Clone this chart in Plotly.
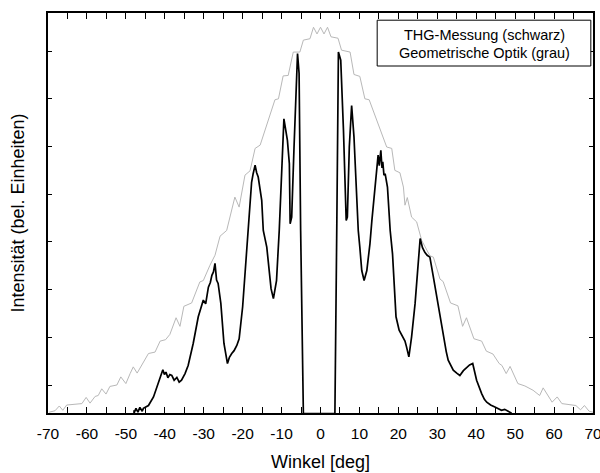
import plotly.graph_objects as go

# Geometrische Optik (grau)
winkel_geo = [-69.7, -68.2, -67.1, -66.2, -65.2, -61.3, -60.2, -59.2, -57.9, -57.1,
              -56.2, -55.1, -54.1, -52.3, -51.3, -50.0, -48.9, -48.1, -47.1, -45.9,
              -44.2, -42.5, -41.2, -39.8, -38.7, -37.1, -36.1, -35.1, -33.1, -31.0,
              -30.1, -28.4, -27.1, -25.8, -24.1, -22.0, -20.9, -19.4, -18.1, -16.8,
              -15.5, -11.7, -10.8, -9.6, -8.3, -7.0, -5.3, -4.4, -2.7, -1.8,
              -0.9, 0.0, 0.9, 1.8, 2.7, 4.5, 5.4, 7.6, 8.6, 10.1,
              11.4, 12.5, 17.0, 18.3, 19.1, 20.4, 21.3, 21.7, 22.3, 23.4,
              24.7, 26.0, 28.1, 29.0, 30.7, 31.5, 33.4, 35.3, 36.5, 37.5,
              39.4, 41.4, 42.6, 44.3, 45.9, 46.6, 47.7, 48.7, 50.7, 52.5,
              54.6, 56.3, 57.2, 59.5, 60.8, 62.0, 65.6, 66.8, 67.8, 69.0, 70.0]
intens_geo = [0.43, 0.46, 0.56, 0.47, 0.58, 0.61, 0.74, 0.62, 0.76, 0.78,
              0.92, 0.81, 0.97, 1.00, 1.17, 1.03, 1.24, 1.38, 1.25, 1.43,
              1.66, 1.69, 1.92, 1.95, 2.06, 2.41, 2.23, 2.65, 2.72, 3.16,
              3.19, 3.51, 3.72, 4.12, 4.24, 4.94, 4.73, 5.40, 5.49, 5.96,
              6.03, 6.98, 7.00, 7.48, 7.49, 7.98, 7.98, 8.23, 8.26, 8.50,
              8.36, 8.50, 8.36, 8.50, 8.30, 8.27, 8.02, 7.98, 7.51, 7.47,
              7.00, 6.98, 5.99, 5.96, 5.50, 5.45, 5.15, 4.77, 4.93, 4.52,
              4.42, 4.03, 3.71, 3.68, 3.22, 3.17, 2.72, 2.66, 2.23, 2.41,
              1.97, 1.92, 1.71, 1.65, 1.45, 1.41, 1.24, 1.39, 1.03, 0.98,
              0.89, 0.78, 0.94, 0.64, 0.75, 0.61, 0.57, 0.48, 0.57, 0.45, 0.43]

# THG-Messung (schwarz)
winkel_thg = [-47.9, -47.9, -47.4, -46.9, -46.4, -45.8, -45.5, -44.2, -42.9, -41.7,
              -40.5, -40.1, -39.7, -39.2, -38.7, -38.2, -37.6, -36.9, -36.3, -35.7,
              -34.8, -34.0, -32.7, -31.4, -30.1, -29.5,
              -28.8, -28.3, -27.9, -27.5, -27.1, -26.7, -26.3, -25.6, -24.8, -23.9,
              -23.4, -22.8, -22.2, -21.5, -20.9,
              -20.0, -19.4, -18.8, -18.1, -17.7, -17.3, -16.8, -16.4, -16.0, -15.1, -14.7, -13.8,
              -12.7, -12.1, -11.3, -10.6, -10.1, -9.4, -8.5, -8.0, -7.8, -7.4,
              -6.8, -6.3, -5.9, -5.5, -5.1, -4.4, 3.7, 4.2, 4.6, 5.2,
              5.9, 6.6, 6.9, 7.4, 8.0, 8.6, 9.3, 9.7, 10.1, 10.6,
              11.2, 11.9, 12.3, 12.7, 13.2, 14.0, 14.8, 15.1, 15.5, 15.8, 16.0, 16.3, 16.6,
              17.2, 17.9, 18.5, 19.4, 20.2, 20.7, 21.3, 21.7, 22.1, 22.7, 23.4, 24.3,
              24.9, 25.6, 26.2, 26.8, 27.4, 28.1, 29.0, 30.3, 31.5, 32.3, 32.8, 33.4, 34.1, 35.0, 35.8,
              36.7, 37.6, 38.3, 39.1, 40.1, 41.4, 42.1, 42.7, 43.7, 44.8, 45.6, 46.5, 47.3, 48.2, 49.1]
intens_thg = [0.47, 0.41, 0.51, 0.43, 0.53, 0.45, 0.51, 0.57, 0.75, 1.03,
              1.32, 1.22, 1.27, 1.15, 1.22, 1.20, 1.10, 1.16, 1.06, 1.10,
              1.24, 1.41, 1.87, 2.43, 2.78, 2.70,
              3.05, 3.15, 3.30, 3.37, 3.55, 3.20, 3.13, 2.71, 1.87, 1.45,
              1.58, 1.66, 1.72, 1.83, 1.97,
              2.64, 3.34, 4.03, 4.94, 5.25, 5.43, 5.61, 5.45, 5.36, 4.87, 4.24, 3.89,
              3.02, 2.81, 3.19, 4.24, 5.36, 6.58, 6.13, 5.64, 4.38, 4.52,
              5.99, 7.18, 7.95, 7.53, 4.24, 0.40, 0.40, 4.45, 7.98, 7.81,
              6.34, 4.45, 4.52, 5.99, 6.86, 6.20, 4.94, 4.24, 3.89, 3.40,
              3.19, 3.40, 3.68, 3.96, 4.45, 5.08, 5.82, 5.60, 5.92, 5.55, 5.68, 5.40, 5.43,
              5.15, 4.24, 3.75, 2.43, 2.15, 2.08, 1.97, 1.92, 1.80, 1.59, 2.01, 2.71,
              3.34, 4.07, 3.88, 3.78, 3.72, 3.68, 3.26, 2.64, 2.01, 1.70, 1.52, 1.42, 1.31, 1.25, 1.20,
              1.30, 1.38, 1.42, 1.45, 1.10, 0.82, 0.70, 0.64, 0.58, 0.54, 0.50, 0.47, 0.49, 0.45, 0.41]

x_tick_values = list(range(-70, 71, 10))
x_tick_labels = [str(v) for v in x_tick_values]
y_tick_values = [1, 2, 3, 4, 5, 6, 7, 8]
legend_lines = ["THG-Messung (schwarz)", "Geometrische Optik (grau)"]

font_family = "Liberation Sans, Arial, sans-serif"

fig = go.Figure()
fig.add_trace(go.Scatter(x=winkel_geo, y=intens_geo, mode="lines",
                         line=dict(color="#b8b8b8", width=1), showlegend=False))
fig.add_trace(go.Scatter(x=winkel_thg, y=intens_thg, mode="lines",
                         line=dict(color="black", width=1.7), showlegend=False))

fig.add_shape(type="rect", xref="paper", yref="paper",
              x0=0.604, x1=0.996, y0=0.8675, y1=0.982,
              line=dict(color="black", width=1), fillcolor="white", layer="above")
fig.add_annotation(text=legend_lines[0], xref="paper", yref="paper",
                   x=0.80, y=0.946, xanchor="center", yanchor="middle", showarrow=False,
                   font=dict(size=14.5, color="black", family=font_family))
fig.add_annotation(text=legend_lines[1], xref="paper", yref="paper",
                   x=0.80, y=0.900, xanchor="center", yanchor="middle", showarrow=False,
                   font=dict(size=14.5, color="black", family=font_family))

fig.update_layout(
    width=600, height=473,
    margin=dict(l=48, r=7, t=13, b=60),
    paper_bgcolor="white", plot_bgcolor="white",
    font=dict(family=font_family, color="black"),
    showlegend=False,
)
fig.update_xaxes(
    range=[-70, 70], tickvals=x_tick_values, ticktext=x_tick_labels, automargin=False,
    ticklabeloverflow="allow",
    ticks="inside", ticklen=6, tickwidth=1, tickcolor="black",
    minor=dict(dtick=5, tick0=-70, ticks="inside", ticklen=6, tickcolor="black"),
    showline=True, linecolor="black", linewidth=1.5, mirror="ticks",
    showgrid=False, zeroline=False,
    tickfont=dict(size=15.5), ticklabelstandoff=6,
    title=dict(text="Winkel [deg]", font=dict(size=18), standoff=14),
)
fig.update_yaxes(
    range=[0.413, 8.799], tickvals=y_tick_values, showticklabels=False, automargin=False,
    ticks="inside", ticklen=4, tickwidth=1, tickcolor="black",
    showline=True, linecolor="black", linewidth=1.5, mirror="ticks",
    showgrid=False, zeroline=False,
    title=dict(text="Intensität (bel. Einheiten)", font=dict(size=18), standoff=17),
)

fig.write_html("out.html")
